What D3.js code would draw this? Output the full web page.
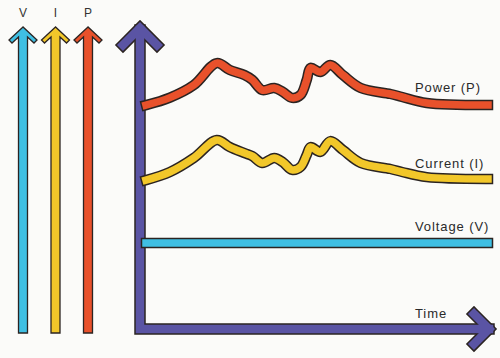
<!DOCTYPE html>
<html><head><meta charset="utf-8">
<script src="https://cdn.jsdelivr.net/npm/d3@7"></script>
<style>html,body{margin:0;padding:0;background:#fbfbf9;}svg{display:block;}</style>
</head><body>
<svg id="c" width="500" height="358"></svg>
<script>
// ---- data ----
const time    = [0, 7, 14, 20.7, 24.5, 28.8, 31.1, 34, 37.5, 40, 42.7, 45.2, 47, 48.1, 51, 53.9, 57.6, 62.8, 71.5, 74.9, 82.1, 100];
const power   = [74.3, 76.8, 81, 88.3, 86, 84.3, 82.7, 79.3, 80, 78.7, 76.7, 77.7, 82.7, 86.7, 85.3, 87.7, 84.3, 80, 78, 77, 75, 74.3];
const current = [49.3, 52, 56.7, 62.7, 60.3, 58.3, 57.3, 55, 56.7, 55.3, 52.7, 53.7, 57.7, 60.3, 58.7, 62.3, 59.3, 55, 53, 52, 50.3, 49.7];
const voltTime = [0, 100];
const voltage  = [28.3, 28.3];
const seriesNames = ["Power (P)", "Current (I)", "Voltage (V)"];
const legendLabels = ["V", "I", "P"];
const axisLabel = "Time";

const colors = {P: "#e8512b", I: "#f2c72a", V: "#3fbfe3", axis: "#5a54a4", ink: "#2b2422"};

const svg = d3.select("#c");
const x = d3.scaleLinear().domain([0, 100]).range([146, 488]);
const y = d3.scaleLinear().domain([0, 100]).range([328, 28]);

// ---- legend arrows ----
const legendX = d3.scalePoint().domain(legendLabels).range([23, 88]);
const legendColor = {V: colors.V, I: colors.I, P: colors.P};
const tipY = 27, botY = 333;
legendLabels.forEach(k => {
  const cx = legendX(k);
  const pts = [[0,0],[-14,13],[-11,16],[-4.5,10],[-4.5,botY-tipY],[4.5,botY-tipY],[4.5,10],[11,16],[14,13]]
    .map(p => [cx + p[0], tipY + p[1]]);
  svg.append("path").attr("d", "M" + pts.join("L") + "Z")
    .attr("fill", legendColor[k]).attr("stroke", colors.ink).attr("stroke-width", 1.3)
    .attr("stroke-linejoin", "miter");
  svg.append("text").attr("x", cx).attr("y", 17).attr("text-anchor", "middle")
    .attr("font-family", "Liberation Sans, Arial, sans-serif").attr("font-size", 12)
    .attr("fill", "#333").text(k);
});

// ---- axes (L shape with chevrons) ----
const ax = 140, ay = 329;
const axisPath = `M${ax},30 L${ax},${ay} L489,${ay}`;
const chevV = `M${ax-17},45 L${ax},28 L${ax+17},45`;
const chevH = `M474,${ay-15} L489,${ay} L474,${ay+15}`;
[axisPath, chevV, chevH].forEach(d => {
  svg.append("path").attr("d", d).attr("fill", "none").attr("stroke", colors.ink)
    .attr("stroke-width", 11.5).attr("stroke-linejoin", "miter").attr("stroke-linecap", "square");
});
[axisPath, chevV, chevH].forEach(d => {
  svg.append("path").attr("d", d).attr("fill", "none").attr("stroke", colors.axis)
    .attr("stroke-width", 8.5).attr("stroke-linejoin", "miter").attr("stroke-linecap", "square");
});

// ---- series lines ----
const line = d3.line().x(d => x(d[0])).y(d => y(d[1])).curve(d3.curveCatmullRom.alpha(0.5));
const series = [
  {pts: d3.zip(voltTime, voltage), color: colors.V},
  {pts: d3.zip(time, current), color: colors.I},
  {pts: d3.zip(time, power), color: colors.P}
];
series.forEach(s => {
  svg.append("path").attr("d", line(s.pts)).attr("fill", "none")
    .attr("stroke", colors.ink).attr("stroke-width", 10.5).attr("stroke-linecap", "square").attr("stroke-linejoin", "round");
  svg.append("path").attr("d", line(s.pts)).attr("fill", "none")
    .attr("stroke", s.color).attr("stroke-width", 7.5).attr("stroke-linecap", "square").attr("stroke-linejoin", "round");
});

// ---- labels ----
const labelY = [92, 168, 231];
seriesNames.forEach((t, i) => {
  svg.append("text").attr("x", 415).attr("y", labelY[i])
    .attr("font-family", "Liberation Sans, Arial, sans-serif").attr("font-size", 13)
    .attr("letter-spacing", 0.9).attr("fill", "#2a2a2a").text(t);
});
svg.append("text").attr("x", 415).attr("y", 318)
  .attr("font-family", "Liberation Sans, Arial, sans-serif").attr("font-size", 13)
  .attr("letter-spacing", 0.9).attr("fill", "#2a2a2a").text(axisLabel);
</script>
</body></html>
